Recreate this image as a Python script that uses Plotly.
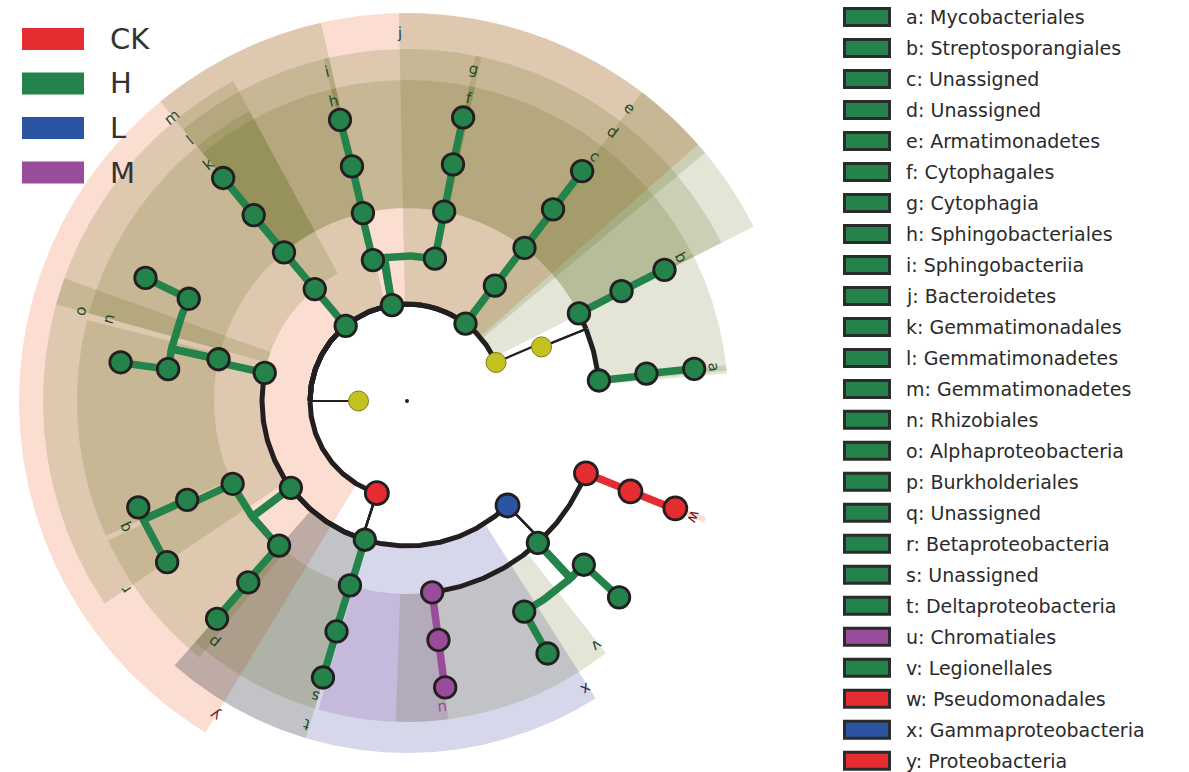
import numpy as np
import plotly.graph_objects as go

# ---------------------------------------------------------------------------
# Cladogram data
# ---------------------------------------------------------------------------
# taxonomic tree: name, parent, depth (0 = root ... 6 = genus), angle (deg), group
node_name = [
    "root", "Bacteria",
    "Actinobacteria_p", "Actinobacteria_c", "Mycobacteriales", "Myco_f", "Myco_g",
    "Streptosporangiales", "Strep_f", "Strep_g",
    "Armatimonadetes", "Arm_unassigned_c", "Arm_unassigned_o", "Arm_f", "Arm_g",
    "Bacteroidetes", "Cytophagia", "Cytophagales", "Cyto_f", "Cyto_g",
    "Sphingobacteriia", "Sphingobacteriales", "Sphingo_f", "Sphingo_g",
    "Gemmatimonadetes_p", "Gemmatimonadetes_c", "Gemmatimonadales", "Gemm_f", "Gemm_g",
    "Proteobacteria",
    "Alphaproteobacteria", "Rhizobiales", "Rhizo_f1", "Rhizo_g1", "Rhizo_f2", "Rhizo_g2",
    "Betaproteobacteria", "Beta_unassigned_o", "Beta_f", "Beta_g1", "Beta_g2",
    "Burkholderiales", "Burk_f", "Burk_g",
    "Deltaproteobacteria", "Delta_unassigned_o", "Delta_f", "Delta_g",
    "Gammaproteobacteria", "Chromatiales", "Chrom_f", "Chrom_g",
    "Legionellales", "Leg_f1", "Leg_g1", "Leg_f2", "Leg_g2",
    "Pseudomonadales", "Pseudo_f", "Pseudo_g",
]
node_parent = [
    None, "root",
    "Bacteria", "Actinobacteria_p", "Actinobacteria_c", "Mycobacteriales", "Myco_f",
    "Actinobacteria_c", "Streptosporangiales", "Strep_f",
    "Bacteria", "Armatimonadetes", "Arm_unassigned_c", "Arm_unassigned_o", "Arm_f",
    "Bacteria", "Bacteroidetes", "Cytophagia", "Cytophagales", "Cyto_f",
    "Bacteroidetes", "Sphingobacteriia", "Sphingobacteriales", "Sphingo_f",
    "Bacteria", "Gemmatimonadetes_p", "Gemmatimonadetes_c", "Gemmatimonadales", "Gemm_f",
    "Bacteria",
    "Proteobacteria", "Alphaproteobacteria", "Rhizobiales", "Rhizo_f1", "Rhizobiales", "Rhizo_f2",
    "Proteobacteria", "Betaproteobacteria", "Beta_unassigned_o", "Beta_f", "Beta_f",
    "Betaproteobacteria", "Burkholderiales", "Burk_f",
    "Proteobacteria", "Deltaproteobacteria", "Delta_unassigned_o", "Delta_f",
    "Proteobacteria", "Gammaproteobacteria", "Chromatiales", "Chrom_f",
    "Gammaproteobacteria", "Legionellales", "Leg_f1", "Legionellales", "Leg_f2",
    "Gammaproteobacteria", "Pseudomonadales", "Pseudo_f",
]
node_depth = [
    0, 1,
    2, 3, 4, 5, 6, 4, 5, 6,
    2, 3, 4, 5, 6,
    2, 3, 4, 5, 6, 3, 4, 5, 6,
    2, 3, 4, 5, 6,
    2,
    3, 4, 5, 6, 5, 6,
    3, 4, 5, 6, 6, 4, 5, 6,
    3, 4, 5, 6,
    3, 4, 5, 6, 4, 5, 6, 5, 6, 4, 5, 6,
]
node_angle = [
    0.0, 180.0,
    23.4, 21.9, 6.1, 6.5, 6.4, 27.0, 27.1, 27.0,
    52.9, 52.7, 52.5, 52.7, 52.7,
    98.9, 78.9, 78.9, 79.0, 78.8, 103.6, 103.2, 103.2, 103.4,
    129.2, 129.5, 129.6, 129.5, 129.5,
    251.9,
    168.8, 167.5, 154.9, 154.8, 172.4, 172.3,
    216.8, 205.4, 204.2, 201.6, 213.9, 228.5, 228.8, 228.9,
    253.1, 252.8, 253.0, 253.1,
    313.9, 277.5, 277.5, 277.6, 312.7, 317.2, 317.2, 299.1, 299.1, 338.0, 338.0, 338.2,
]
node_group = [
    "root", "NS",
    "NS", "NS", "H", "H", "H", "H", "H", "H",
    "H", "H", "H", "H", "H",
    "H", "H", "H", "H", "H", "H", "H", "H", "H",
    "H", "H", "H", "H", "H",
    "CK",
    "H", "H", "H", "H", "H", "H",
    "H", "H", "H", "H", "H", "H", "H", "H",
    "H", "H", "H", "H",
    "L", "M", "M", "M", "H", "H", "H", "H", "H", "CK", "CK", "CK",
]

# shaded clade sectors: letter, group, depth of the clade, angular extent (deg)
sector_letter = ["y", "x", "e", "d", "c", "j", "g", "f", "i", "h", "m", "l", "k",
                 "o", "n", "r", "q", "p", "t", "s", "u", "v", "w", "b", "a"]
sector_group = ["CK", "L", "H", "H", "H", "H", "H", "H", "H", "H", "H", "H", "H",
                "H", "H", "H", "H", "H", "H", "H", "M", "H", "CK", "H", "H"]
sector_depth = [2, 3, 2, 3, 4, 2, 3, 4, 3, 4, 2, 3, 4,
                3, 4, 3, 4, 4, 3, 4, 4, 4, 4, 4, 4]
sector_from = [41.4, 228.7, 26.7, 26.7, 26.7, 39.8, 52.7, 52.7, 77.8, 77.8, 102.8, 102.8, 102.8,
               118.5, 118.5, 160.3, 165.8, 205.0, 228.7, 228.7, 254.0, 268.0, 337.7, 4.9, 5.4]
sector_to = [238.7, 302.4, 52.7, 52.7, 52.7, 91.2, 78.8, 78.8, 103.7, 103.7, 129.5, 129.5, 129.5,
             164.6, 164.6, 213.8, 204.1, 231.0, 253.3, 253.3, 277.4, 308.3, 338.7, 27.2, 6.4]

# clade letters and where they sit (angle, depth of the clade)
label_letter = ["a", "b", "c", "d", "e", "f", "g", "h", "i", "j", "k", "l", "m",
                "n", "o", "p", "q", "r", "s", "t", "u", "v", "w", "x", "y"]
label_angle = [6.4, 27.7, 52.6, 52.6, 52.8, 78.5, 78.6, 103.7, 103.7, 91.1,
               129.9, 129.7, 129.6, 164.5, 164.7, 231.2, 204.1, 213.8, 252.8, 252.7,
               276.6, 307.8, 338.1, 301.9, 238.6]
label_depth = [4, 4, 4, 3, 2, 4, 3, 4, 3, 2, 4, 3, 2, 4, 3, 4, 4, 3, 4, 3, 4, 4, 4, 3, 2]

# legend content
class_names = ["CK", "H", "L", "M"]
legend_letter = label_letter
legend_taxon = ["Mycobacteriales", "Streptosporangiales", "Unassigned", "Unassigned",
                "Armatimonadetes", "Cytophagales", "Cytophagia", "Sphingobacteriales",
                "Sphingobacteriia", "Bacteroidetes", "Gemmatimonadales",
                "Gemmatimonadetes", "Gemmatimonadetes", "Rhizobiales",
                "Alphaproteobacteria", "Burkholderiales", "Unassigned",
                "Betaproteobacteria", "Unassigned", "Deltaproteobacteria",
                "Chromatiales", "Legionellales", "Pseudomonadales",
                "Gammaproteobacteria", "Proteobacteria"]
legend_group = ["H"] * 20 + ["M", "H", "CK", "L", "CK"]

# ---------------------------------------------------------------------------
# Styling
# ---------------------------------------------------------------------------
W, H = 1189, 772
CX, CY = 407, 401                         # centre of the cladogram on the page
RING = [0, 48.5, 97, 145, 193, 241, 289]  # radius of each depth
SECTOR_OUT = {2: 388, 3: 352, 4: 321}
SECTOR_OUT_WIDE = {"o": 364, "r": 364, "n": 330, "q": 330, "p": 330}
SECTOR_IN_SHIFT = {"d": 193, "g": 193, "i": 193, "l": 193}
LABEL_R = {2: 368, 3: 339, 4: 309}

COLOR = {"CK": "#e52d31", "H": "#23834a", "L": "#2b55a2", "M": "#994c9a",
         "NS": "#c3c21f", "root": "#222222"}
# translucent sector tints; dark base colours so stacked tints darken like ink
SHADE = {"CK": "rgba(234,76,8,0.19)", "H": "rgba(85,100,12,0.165)",
         "L": "rgba(15,19,135,0.17)", "M": "rgba(101,22,135,0.15)"}
LABEL_COLOR = {"CK": "#6e1c1c", "H": "#1f4a2b", "L": "#25305e", "M": "#9b4a9b"}
INK = "#231f20"


def arc(r, t0, t1):
    n = max(2, int(abs(t1 - t0) / 0.4) + 2)
    t = np.radians(np.linspace(t0, t1, n))
    return list(r * np.cos(t)), list(r * np.sin(t))


def polar(r, t):
    t = np.radians(t)
    return r * np.cos(t), r * np.sin(t)


fig = go.Figure()

# sectors
for letter, grp, dep, t0, t1 in zip(sector_letter, sector_group, sector_depth,
                                    sector_from, sector_to):
    r_out = SECTOR_OUT_WIDE.get(letter, SECTOR_OUT[dep])
    r_in = SECTOR_IN_SHIFT.get(letter, RING[dep])
    xo, yo = arc(r_out, t0, t1)
    xi, yi = arc(r_in, t1, t0)
    fig.add_trace(go.Scatter(x=xo + xi + [xo[0]], y=yo + yi + [yo[0]],
                             mode="lines", fill="toself", fillcolor=SHADE[grp],
                             line=dict(width=0), hoverinfo="skip", name=letter))

# branches
idx = {n: i for i, n in enumerate(node_name)}
thin = ([], [])
thick = ([], [])
colored = {}
for i, p in enumerate(node_parent):
    if p is None or node_parent[idx[p]] is None:
        continue
    j = idx[p]
    rp, tp = RING[node_depth[j]], node_angle[j]
    rc, tc = RING[node_depth[i]], node_angle[i]
    x0, y0 = polar(rp, tp)
    x1, y1 = polar(rc, tp)
    ax_, ay_ = arc(rc, tp, tc)
    if node_group[i] == node_group[j] and node_group[i] in SHADE:
        seg = colored.setdefault(node_group[i], ([], []))
        seg[0].extend([x0] + ax_ + [None])
        seg[1].extend([y0] + ay_ + [None])
    else:
        thin[0].extend([x0, x1, None])
        thin[1].extend([y0, y1, None])
        thick[0].extend(ax_ + [None])
        thick[1].extend(ay_ + [None])

fig.add_trace(go.Scatter(x=thin[0], y=thin[1], mode="lines",
                         line=dict(color=INK, width=2.2), hoverinfo="skip"))
fig.add_trace(go.Scatter(x=thick[0], y=thick[1], mode="lines",
                         line=dict(color=INK, width=5), hoverinfo="skip"))
for grp, seg in colored.items():
    fig.add_trace(go.Scatter(x=seg[0], y=seg[1], mode="lines",
                             line=dict(color=COLOR[grp], width=7.5), hoverinfo="skip"))

# nodes
nx, ny, ncol, nsize, nline, nlcol = [], [], [], [], [], []
for i in range(len(node_name)):
    x, y = polar(RING[node_depth[i]], node_angle[i])
    g = node_group[i]
    nx.append(x)
    ny.append(y)
    ncol.append(COLOR[g])
    if g == "root":
        nsize.append(4)
        nline.append(0)
        nlcol.append(INK)
    elif g == "NS":
        nsize.append(20)
        nline.append(1)
        nlcol.append("#7d7a1a")
    elif g in ("CK", "L"):
        nsize.append(23)
        nline.append(2.8)
        nlcol.append(INK)
    else:
        nsize.append(21.5)
        nline.append(2.8)
        nlcol.append(INK)
fig.add_trace(go.Scatter(x=nx, y=ny, mode="markers", hoverinfo="skip",
                         marker=dict(color=ncol, size=nsize, opacity=1,
                                     line=dict(color=nlcol, width=nline))))

# clade letters
grp_of = dict(zip(legend_letter, legend_group))
for letter, t, dep in zip(label_letter, label_angle, label_depth):
    x, y = polar(LABEL_R[dep], t)
    fig.add_annotation(x=x, y=y, text=letter, showarrow=False, textangle=90 - t,
                       font=dict(family="DejaVu Sans", size=15,
                                 color=LABEL_COLOR[grp_of[letter]]))

# class legend (top left)
for k, cls in enumerate(class_names):
    y0 = 28 + k * 44.5
    fig.add_shape(type="rect", xref="paper", yref="paper",
                  x0=22 / W, x1=84 / W, y0=1 - (y0 + 22) / H, y1=1 - y0 / H,
                  fillcolor=COLOR[cls], line=dict(width=0))
    fig.add_annotation(xref="paper", yref="paper", x=108 / W, y=1 - (y0 + 11) / H,
                       text=cls, showarrow=False, xanchor="left", yanchor="middle",
                       font=dict(family="DejaVu Sans", size=29, color="#333333"))

# biomarker legend (right)
for k, (letter, taxon, grp) in enumerate(zip(legend_letter, legend_taxon, legend_group)):
    yc = 17 + k * 30.99
    fig.add_shape(type="rect", xref="paper", yref="paper",
                  x0=844.5 / W, x1=889.5 / W, y0=1 - (yc + 8.5) / H, y1=1 - (yc - 8.5) / H,
                  fillcolor=COLOR[grp], line=dict(color="#2b2b2b", width=3))
    fig.add_annotation(xref="paper", yref="paper", x=904 / W, y=1 - yc / H,
                       text=f"{letter}: {taxon}", showarrow=False,
                       xanchor="left", yanchor="middle",
                       font=dict(family="DejaVu Sans", size=19, color="#2b2b2b"))

fig.update_layout(
    width=W, height=H, margin=dict(l=0, r=0, t=0, b=0),
    paper_bgcolor="white", plot_bgcolor="white", showlegend=False,
    xaxis=dict(range=[-CX, W - CX], visible=False, fixedrange=True),
    yaxis=dict(range=[-(H - CY), CY], visible=False, fixedrange=True),
)
fig.write_html("out.html")
